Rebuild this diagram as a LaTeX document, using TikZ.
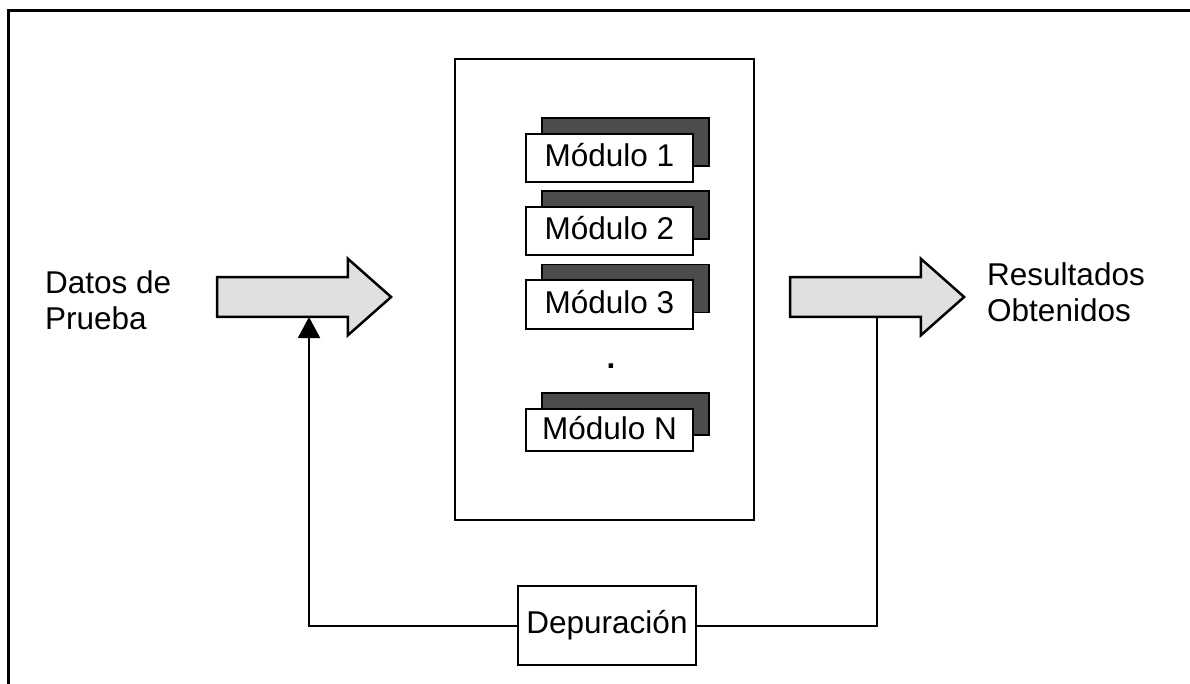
\documentclass[tikz,border=0pt]{standalone}
\usepackage{fontspec}
\setmainfont{Liberation Sans}
\usetikzlibrary{shapes.arrows,arrows.meta}
\begin{document}
\begin{tikzpicture}[x=1pt,y=-1pt,
  frame/.style={line width=3pt},
  bigbox/.style={draw, line width=2.6pt, inner sep=0pt},
  modbox/.style={draw, line width=2pt, fill=white, minimum width=167pt, minimum height=48pt, inner sep=0pt, text height=22pt, text depth=4pt, font=\fontsize{31.5}{36}\selectfont},
  modshadow/.style={draw, line width=1.2pt, fill=black!70, minimum width=167pt, minimum height=48pt, inner sep=0pt},
  bigarrow/.style={single arrow, draw, line width=2.5pt, fill=black!12, inner xsep=0pt, inner ysep=18.5pt, minimum height=174pt, single arrow head extend=18.5pt, single arrow tip angle=83, anchor=tip},
  txt/.style={align=left, inner sep=0pt, font=\fontsize{31.5}{36}\selectfont},
  depbox/.style={draw, line width=1.5pt, minimum width=178pt, minimum height=79pt, inner sep=0pt, text height=22pt, text depth=7pt, font=\fontsize{31.5}{36}\selectfont},
  fb/.style={line width=2pt}]
\useasboundingbox (0,0) rectangle (1190,684);
% frame (left and top edges)
\draw[frame] (8,684) -- (8,11) -- (1190,11);
% central system box
\node[bigbox, minimum width=299pt, minimum height=461pt] (sys) at (604.5,289.5) {};
% modules
\node[modshadow] (s1) at (625.5,142) {};
\node[modbox] (m1) at (609.5,158) {Módulo 1};
\node[modshadow] (s2) at (625.5,215) {};
\node[modbox] (m2) at (609.5,231) {Módulo 2};
\node[modshadow] (s3) at (625.5,288.5) {};
\node[modbox] (m3) at (609.5,304.5) {Módulo 3};
\node[font=\fontsize{31.5}{36}\selectfont\bfseries, inner sep=0pt] (dots) at (611,366) {.};
\node[modshadow, minimum height=42pt] (sN) at (625.5,414) {};
\node[modbox, minimum height=42pt] (mN) at (609.5,430) {Módulo N};
% big arrows
\node[bigarrow] (inA) at (393,297) {};
\node[bigarrow] (outA) at (966,297) {};
% labels
\node[txt, anchor=north west] (datos) at (45,270.5) {Datos de\\Prueba};
\node[txt, anchor=north west] (res) at (987,262.5) {Resultados\\Obtenidos};
% debugging box
\node[depbox] (dep) at (607,625.5) {Depuración};
% feedback connectors
\coordinate (inJoin) at (309,317);
\coordinate (outJoin) at (877,316);
\draw[fb, -{Triangle[length=21pt,width=22pt]}] (dep.west) -| (inJoin);
\draw[fb] (outJoin) |- (dep.east);
\end{tikzpicture}
\end{document}
